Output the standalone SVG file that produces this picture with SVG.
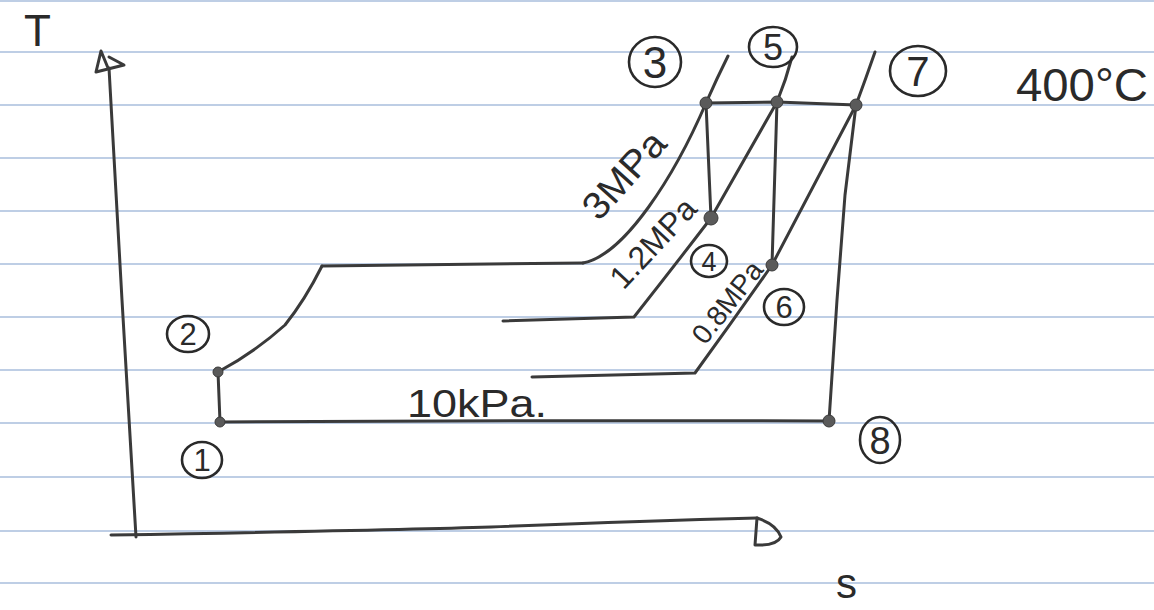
<svg xmlns="http://www.w3.org/2000/svg" width="1154" height="610" viewBox="0 0 1154 610">
<style>
.rule{stroke:#a9bedc;stroke-width:1.6;fill:none}
.ln{stroke:#3a3a3a;stroke-width:3;fill:none;stroke-linecap:round;stroke-linejoin:round}
.dot{fill:#5a5a5a;stroke:#3a3a3a;stroke-width:1}
.ring{fill:none;stroke:#2a2a2a;stroke-width:2.6}
.t{font-family:"Liberation Sans",Arial,sans-serif;fill:#2a2a2a}
.num{font-family:"Liberation Sans",Arial,sans-serif;fill:#2a2a2a;text-anchor:middle}
</style>
<rect width="1154" height="610" fill="#ffffff"/>
<g id="paper">
<line class="rule" x1="0" y1="1" x2="1154" y2="1"/>
<line class="rule" x1="0" y1="52" x2="1154" y2="52"/>
<line class="rule" x1="0" y1="105" x2="1154" y2="105"/>
<line class="rule" x1="0" y1="158" x2="1154" y2="158"/>
<line class="rule" x1="0" y1="211" x2="1154" y2="211"/>
<line class="rule" x1="0" y1="264" x2="1154" y2="264"/>
<line class="rule" x1="0" y1="317" x2="1154" y2="317"/>
<line class="rule" x1="0" y1="370" x2="1154" y2="370"/>
<line class="rule" x1="0" y1="423" x2="1154" y2="423"/>
<line class="rule" x1="0" y1="477" x2="1154" y2="477"/>
<line class="rule" x1="0" y1="531" x2="1154" y2="531"/>
<line class="rule" x1="0" y1="583" x2="1154" y2="583"/>
</g>
<g id="axes">
<path class="ln" d="M109,68 L122,300 L136,537"/>
<path class="ln" d="M108,68 L101,51 L96,72 L124,65 L109,57"/>
<path class="ln" d="M111,535 Q400,530 491,527 Q640,521 757,518"/>
<path class="ln" d="M757,518 L755,545 M757,518 Q776,524 781,537 Q776,546 756,545"/>
<text class="t" x="24" y="46" font-size="44">T</text>
<text class="t" x="836" y="598" font-size="42">s</text>
</g>
<g id="connectors">
<path class="ln" d="M220,422 L218,372"/>
<path class="ln" d="M218,372 Q255,352 285,325 Q305,300 322,266"/>
<path class="ln" d="M322,266 L583,263"/>
<path class="ln" d="M583,263 C625,255 675,175 706,103 Q717,78 728,56"/>
<path class="ln" d="M706,103 L777,102 L856,105"/>
<path class="ln" d="M706,103 L711,218"/>
<path class="ln" d="M503,321 L634,317 Q675,265 711,218 L777,102 Q786,80 792,57"/>
<path class="ln" d="M777,102 L772,265"/>
<path class="ln" d="M532,377 L695,373 Q735,318 772,265 L856,105 Q866,78 875,52"/>
<path class="ln" d="M856,105 L845,195 L837,300 L829,421"/>
<path class="ln" d="M220,422 Q500,420 829,421"/>
</g>
<g id="labels">
<g transform="translate(624,175) rotate(-48)"><text class="num" x="0" y="13" font-size="38" textLength="104" lengthAdjust="spacingAndGlyphs">3MPa</text></g>
<g transform="translate(653,243) rotate(-47)"><text class="num" x="0" y="11" font-size="32" textLength="110" lengthAdjust="spacingAndGlyphs">1.2MPa</text></g>
<g transform="translate(727,302) rotate(-52)"><text class="num" x="0" y="10" font-size="28" textLength="96" lengthAdjust="spacingAndGlyphs">0.8MPa</text></g>
<text class="t" x="407" y="417" font-size="38" textLength="140" lengthAdjust="spacingAndGlyphs">10kPa.</text>
<text class="t" x="1016" y="101" font-size="46" textLength="132" lengthAdjust="spacingAndGlyphs">400°C</text>
</g>
<g id="state-1"><circle class="dot" cx="220" cy="422" r="5"/><ellipse class="ring" cx="202" cy="460" rx="20" ry="18"/><text class="num" x="202" y="471" font-size="31">1</text></g>
<g id="state-2"><circle class="dot" cx="218" cy="372" r="5"/><ellipse class="ring" cx="188" cy="334" rx="21" ry="18"/><text class="num" x="188" y="345" font-size="31">2</text></g>
<g id="state-3"><circle class="dot" cx="706" cy="103" r="6"/><ellipse class="ring" cx="655" cy="62" rx="26" ry="25"/><text class="num" x="655" y="78" font-size="44">3</text></g>
<g id="state-4"><circle class="dot" cx="711" cy="218" r="7"/><ellipse class="ring" cx="709" cy="261" rx="18" ry="16"/><text class="num" x="709" y="271" font-size="27">4</text></g>
<g id="state-5"><circle class="dot" cx="777" cy="102" r="6"/><ellipse class="ring" cx="773" cy="47" rx="24" ry="20"/><text class="num" x="773" y="60" font-size="36">5</text></g>
<g id="state-6"><circle class="dot" cx="772" cy="265" r="6"/><ellipse class="ring" cx="784" cy="307" rx="20" ry="18"/><text class="num" x="784" y="318" font-size="31">6</text></g>
<g id="state-7"><circle class="dot" cx="856" cy="105" r="6"/><ellipse class="ring" cx="918" cy="71" rx="28" ry="25"/><text class="num" x="918" y="86" font-size="42">7</text></g>
<g id="state-8"><circle class="dot" cx="829" cy="421" r="6"/><ellipse class="ring" cx="880" cy="440" rx="20" ry="23"/><text class="num" x="880" y="454" font-size="38">8</text></g>
</svg>
